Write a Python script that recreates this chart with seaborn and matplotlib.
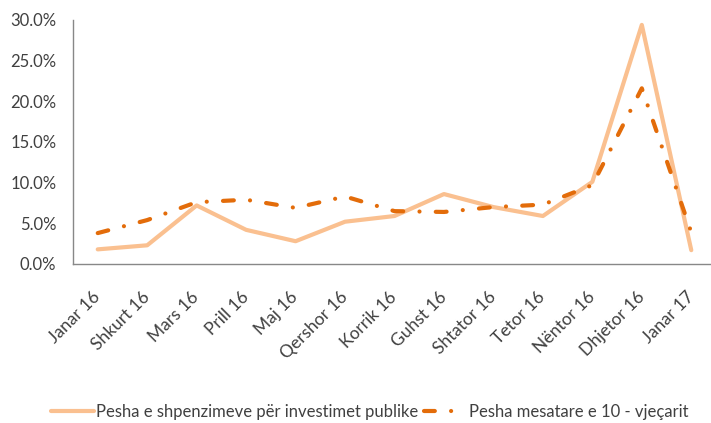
import pandas as pd
import numpy as np
import matplotlib.pyplot as plt
import seaborn as sns
from matplotlib.ticker import PercentFormatter, FixedLocator

sns.set_style('white')
plt.rcParams['font.family'] = ['Lato', 'DejaVu Sans']

months = ['Janar 16', 'Shkurt 16', 'Mars 16', 'Prill 16', 'Maj 16', 'Qershor 16',
          'Korrik 16', 'Guhst 16', 'Shtator 16', 'Tetor 16', 'Nëntor 16',
          'Dhjetor 16', 'Janar 17']
investime = [1.8, 2.3, 7.2, 4.2, 2.8, 5.2, 5.9, 8.6, 7.0, 5.9, 10.1, 29.4, 1.7]
mesatare = [3.8, 5.4, 7.6, 7.9, 6.9, 8.3, 6.5, 6.4, 7.0, 7.3, 9.7, 21.6, 3.9]

name_inv = 'Pesha e shpenzimeve për investimet publike'
name_mes = 'Pesha mesatare e 10 - vjeçarit'

df = pd.DataFrame({'muaji': months, name_inv: investime, name_mes: mesatare})

fig = plt.figure(figsize=(7.11, 4.23), dpi=100)
ax = fig.add_axes([73 / 711, 1 - 264 / 423, (716 - 73) / 711, (264 - 20) / 423])

sns.lineplot(data=df, x='muaji', y=name_inv, ax=ax, color='#FAC090', lw=3,
             label=name_inv, sort=False)
sns.lineplot(data=df, x='muaji', y=name_mes, ax=ax, color='#E36C0A', lw=3,
             label=name_mes, sort=False)
dash_line = ax.lines[1]
dash_line.set_dash_capstyle('round')
dash_line.set_dashes([2.6, 3.9, 0.01, 3.9])

ax.set_xlim(-0.5, len(months) - 0.5)
ax.set_ylim(0, 30)
ax.yaxis.set_major_formatter(PercentFormatter(decimals=1))
ax.set_yticks(np.arange(0, 31, 5))
ax.set_xlabel('')
ax.set_ylabel('')

ax.set_xticks(range(len(months)))
ax.set_xticklabels(months, rotation=45, ha='right', va='center', rotation_mode='anchor')
ax.xaxis.set_minor_locator(FixedLocator(np.arange(-0.5, len(months), 1)))
ax.tick_params(axis='x', which='major', length=0, pad=22)
ax.tick_params(axis='x', which='minor', length=5, color='#888888', width=1, direction='out')
ax.tick_params(axis='y', length=5, color='#888888', width=1, direction='out', pad=7)
ax.tick_params(labelsize=12, labelcolor='#404040')
for t in ax.get_xticklabels():
    t.set_fontsize(12.5)

for s in ['top', 'right']:
    ax.spines[s].set_visible(False)
for s in ['left', 'bottom']:
    ax.spines[s].set_color('#888888')
    ax.spines[s].set_linewidth(1)

ax.get_legend().remove()
h, l = ax.get_legend_handles_labels()
fig.legend(h, l, loc='lower center', bbox_to_anchor=(0.52, -0.028), ncol=2,
           frameon=False, fontsize=12, handlelength=2.6, columnspacing=0.3,
           handletextpad=0.15, labelcolor='#404040')

plt.savefig('out.png', dpi=100)
